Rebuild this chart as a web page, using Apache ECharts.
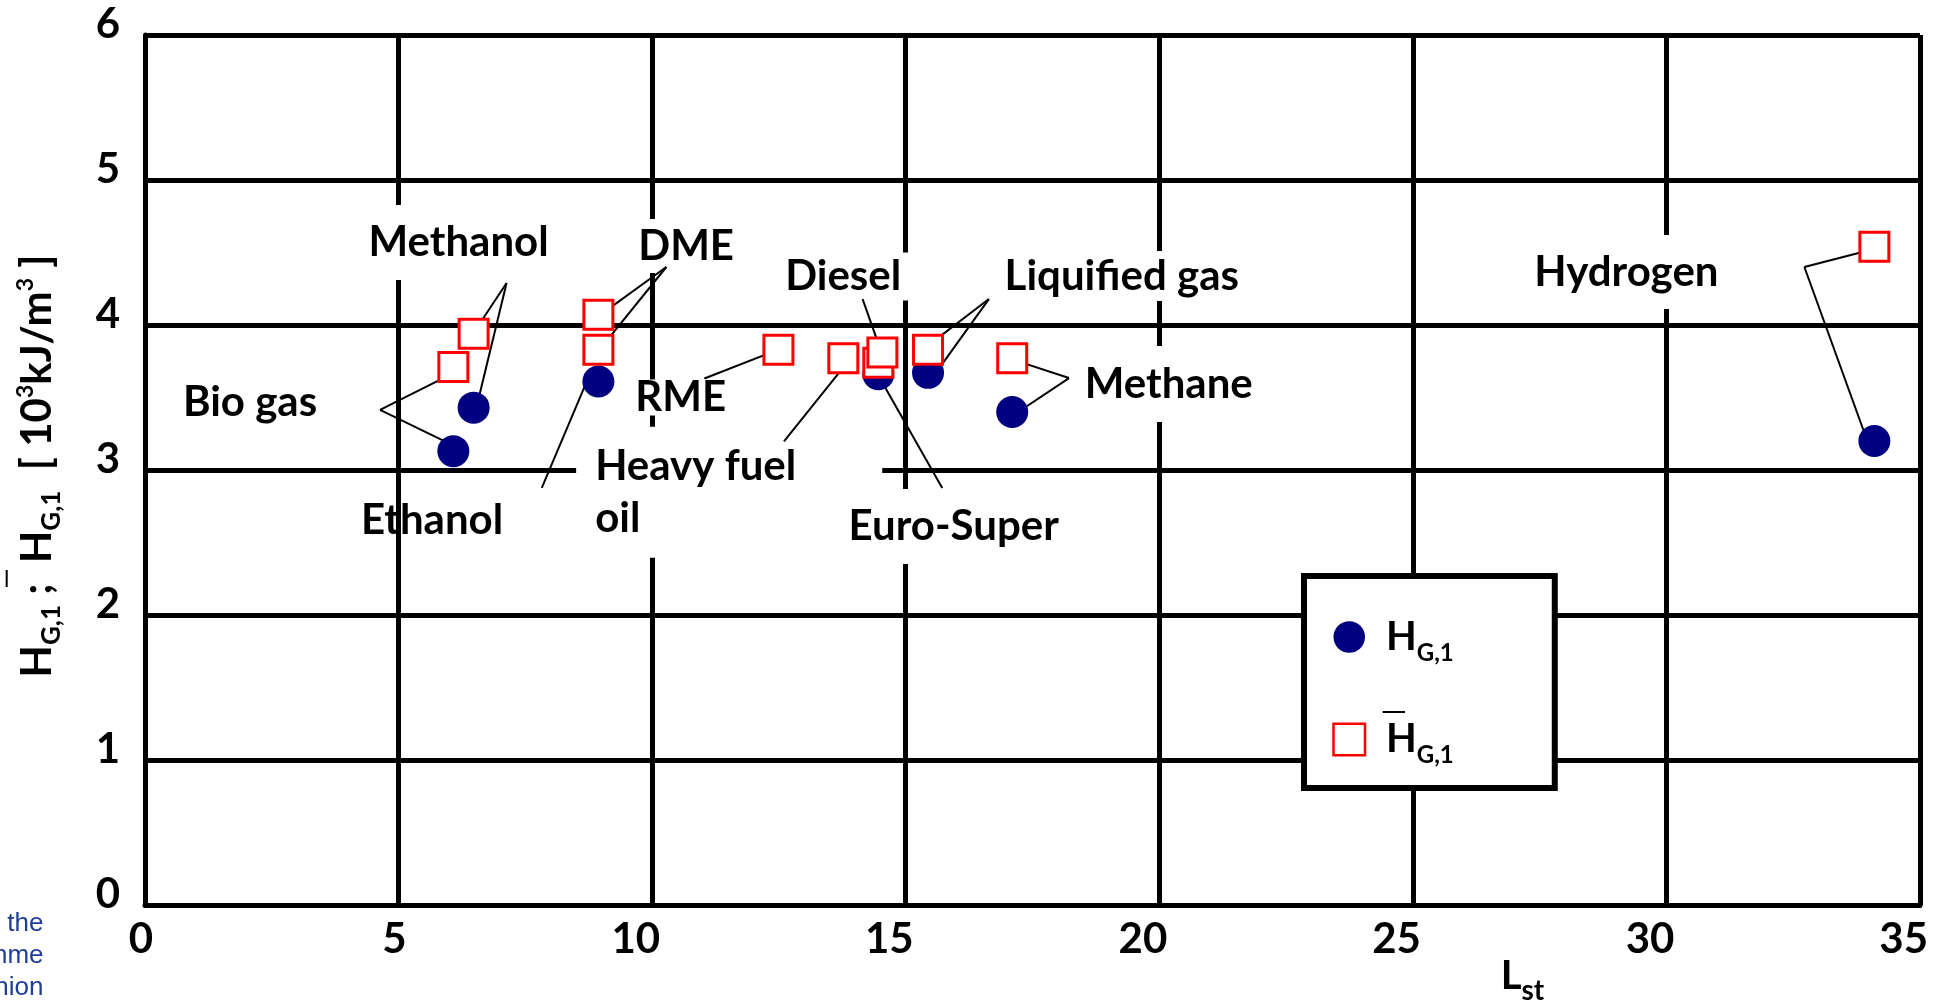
<!DOCTYPE html>
<html>
<head>
<meta charset="utf-8">
<script src="https://cdn.jsdelivr.net/npm/echarts@6/dist/echarts.min.js"></script>
<style>
  html, body { margin: 0; padding: 0; background: #fff; }
  #chart { width: 1952px; height: 1003px; }
</style>
</head>
<body>
<div id="chart"></div>
<script>
// Fuels and their stoichiometric air requirement L_st
const fuels = ['Bio gas', 'Methanol', 'DME', 'Ethanol', 'RME', 'Heavy fuel oil',
               'Euro-Super', 'Diesel', 'Liquified gas', 'Methane', 'Hydrogen'];
const lst   = [6.08, 6.48, 8.94, 8.94, 12.49, 13.77, 14.46, 14.54, 15.44, 17.10, 34.10];
// mixture heating value (open squares), 10^3 kJ/m^3
const hMix  = [3.71, 3.94, 4.07, 3.83, 3.83, 3.77, 3.74, 3.81, 3.83, 3.77, 4.54];
// H_G,1 (filled circles), 10^3 kJ/m^3; null = not plotted
const hG1   = [3.13, 3.43, null, 3.61, null, null, 3.66, null, 3.67, 3.40, 3.20];

const xMin = 0, xMax = 35, xStep = 5;
const yMin = 0, yMax = 6, yStep = 1;

const FONT = 'Lato';
const LABEL_SIZE = 42;

// Callout layout: text anchor and leader start in axis units,
// leader targets refer to a fuel's marker (sq / ci) with a small pixel nudge.
const callouts = [
  { text: 'Methanol', at: [6.183, 4.566], pad: [18, 10, 17, 10], from: [7.13, 4.29],
    to: [['sq', 1, 2, -4], ['ci', 1, 2, 3]] },
  { text: 'Bio gas', at: [2.071, 3.469], pad: [8, 8, 8, 8], from: [4.635, 3.414],
    to: [['sq', 0, -12, 12], ['ci', 0, -9, -10]] },
  { text: 'DME', at: [10.67, 4.552], pad: [6, 8, 8, 8], from: [10.28, 4.40],
    to: [['sq', 2, 4, -1.5], ['sq', 3, 4, -3.5]] },
  { text: 'Ethanol', at: [5.661, 2.655], bg: false, from: [7.824, 2.876],
    to: [['ci', 3, -10, -4]] },
  { text: 'RME', at: [10.562, 3.50], pad: [0, 4, 0, 4], lh: 36, from: [11.03, 3.631],
    to: [['sq', 4, 5, -2]] },
  { text: 'Heavy fuel\noil', at: [8.876, 2.853], align: 'left', lh: 52.5, pad: [12, 86, 14, 19],
    from: [12.60, 3.197], to: [['sq', 5, 4, 4]] },
  { text: 'Diesel', at: [13.767, 4.362], pad: [0, 14, 8, 10], from: [14.15, 4.179],
    to: [['sq', 7, -3, -6]] },
  { text: 'Euro-Super', at: [15.947, 2.614], pad: [17, 10, 18, 10], from: [15.72, 2.876],
    to: [['ci', 6, 1, 3]] },
  { text: 'Liquified gas', at: [19.26, 4.324], pad: [7, 8, 3, 8], from: [16.64, 4.179],
    to: [['sq', 8, -2, -2.5], ['ci', 8, 15, -10]] },
  { text: 'Methane', at: [20.187, 3.593], pad: [18, 10, 18, 10], from: [18.22, 3.634],
    to: [['sq', 9, 9, 4], ['ci', 9, 9, -2]] },
  { text: 'Hydrogen', at: [29.211, 4.372], pad: [16, 10, 18, 10], from: [32.72, 4.40],
    to: [['sq', 10, -7, 4], ['ci', 10, -7, 0]] }
];

const circleData = [];
const squareData = [];
fuels.forEach((f, i) => {
  if (hG1[i] != null) circleData.push({ name: f, value: [lst[i], hG1[i]] });
  squareData.push({ name: f, value: [lst[i], hMix[i]] });
});

const boldText = (size) => ({ fontSize: size, fontWeight: 'bold', fontFamily: FONT, color: '#000' });

const chart = echarts.init(document.getElementById('chart'), null, { renderer: 'canvas' });

const option = {
  animation: false,
  backgroundColor: '#fff',
  grid: { left: 145, right: 32, top: 35, bottom: 98 },
  xAxis: {
    type: 'value', min: xMin, max: xMax, interval: xStep,
    axisLine: { show: true, onZero: false, lineStyle: { color: '#000', width: 5 } },
    axisTick: { show: false },
    splitLine: { show: true, lineStyle: { color: '#000', width: 5 } },
    axisLabel: {
      margin: 13, align: 'left',
      formatter: (v) => '{t|' + v + '}',
      rich: { t: Object.assign(boldText(42), { width: 8, align: 'right', lineHeight: 42 }) }
    }
  },
  yAxis: {
    type: 'value', min: yMin, max: yMax, interval: yStep,
    axisLine: { show: true, onZero: false, lineStyle: { color: '#000', width: 5 } },
    axisTick: { show: false },
    splitLine: { show: true, lineStyle: { color: '#000', width: 5 } },
    axisLabel: Object.assign(boldText(42), { margin: 25, verticalAlign: 'bottom', lineHeight: 22 }),
    name: '{b|H}{s|G,1}{b| ;  H}{s|G,1}{b|  [ 10}{p|3}{b|kJ/m}{p|3}{b| ]}',
    nameLocation: 'middle', nameRotate: 90, nameGap: 80,
    nameTextStyle: {
      padding: [0, 0, 0, 8],
      rich: {
        b: Object.assign(boldText(42), { lineHeight: 56 }),
        s: Object.assign(boldText(26), { verticalAlign: 'bottom' }),
        p: Object.assign(boldText(23), { verticalAlign: 'top', padding: [5, 0, 0, 0] })
      }
    }
  },
  legend: {
    orient: 'vertical', left: 1304, top: 576,
    padding: [41, 101, 20.5, 28.25],
    itemGap: 54.5, itemWidth: 31.5, itemHeight: 31.5,
    borderColor: '#000', borderWidth: 6, backgroundColor: '#fff',
    selectedMode: false,
    data: [
      { name: 'HG1', icon: 'circle', itemStyle: { color: '#000080', borderWidth: 0 } },
      { name: 'HG1mix', icon: 'rect', itemStyle: { color: '#fff', borderColor: '#ff0000', borderWidth: 2.5 } }
    ],
    formatter: () => '{b|H}{s|G,1}',
    textStyle: {
      rich: {
        b: Object.assign(boldText(40), { lineHeight: 56, padding: [0, 0, 0, 16] }),
        s: Object.assign(boldText(24), { verticalAlign: 'bottom' })
      }
    }
  },
  graphic: [
    // bar over the mixture heating value symbol
    { type: 'line', z: 100, shape: { x1: 6.7, y1: 570, x2: 6.7, y2: 587 },
      style: { stroke: '#000', lineWidth: 2 } },
    { type: 'line', z: 100, shape: { x1: 1382.6, y1: 712, x2: 1405, y2: 712 },
      style: { stroke: '#000', lineWidth: 2 } },
    // x axis title
    { type: 'text', z: 100, x: 1500.7, y: 947,
      style: {
        text: '{L|L}{s|st}', align: 'left', verticalAlign: 'top', fill: '#000',
        rich: {
          L: { fontSize: 40, fontWeight: 'bold', fontFamily: FONT, lineHeight: 58 },
          s: { fontSize: 28, fontWeight: 'bold', fontFamily: FONT, verticalAlign: 'bottom' }
        }
      } },
    // footer fragment at the lower left edge
    { type: 'text', z: 100, x: 43.5, y: 908,
      style: {
        text: 'the\nnme\nnion', align: 'right', verticalAlign: 'top', lineHeight: 32,
        fontSize: 26, fontFamily: 'Liberation Sans', fill: '#1f3f95'
      } }
  ],
  series: [
    {
      // callout texts on white boxes
      type: 'custom', name: 'callouts', silent: true,
      data: callouts.map((c) => c.at),
      encode: { x: 0, y: 1 },
      renderItem: (params, api) => {
        const c = callouts[params.dataIndex];
        const p = api.coord(c.at);
        const pad = c.pad || [0, 0, 0, 0];
        const align = c.align || 'center';
        let x = p[0];
        const y = p[1] + (pad[2] - pad[0]) / 2;
        if (align === 'center') x += (pad[1] - pad[3]) / 2;
        else if (align === 'left') x -= pad[3];
        return {
          type: 'text',
          style: {
            x: x, y: y, text: c.text,
            fontSize: LABEL_SIZE, fontWeight: 'bold', fontFamily: FONT, fill: '#000',
            align: align, verticalAlign: 'middle', lineHeight: c.lh || 40,
            backgroundColor: c.bg === false ? 'transparent' : '#fff',
            padding: pad
          }
        };
      }
    },
    {
      type: 'scatter', name: 'HG1', data: circleData,
      symbol: 'circle', symbolSize: 32,
      itemStyle: { color: '#000080', opacity: 1 },
      emphasis: { disabled: true }
    },
    {
      type: 'scatter', name: 'HG1mix', data: squareData,
      symbol: 'rect', symbolSize: 29,
      itemStyle: { color: '#fff', borderColor: '#ff0000', borderWidth: 3, opacity: 1 },
      emphasis: { disabled: true }
    },
    {
      // leader lines from callouts to markers
      type: 'custom', name: 'leaders', silent: true,
      data: callouts.map((c) => c.from),
      encode: { x: 0, y: 1 },
      renderItem: (params, api) => {
        const c = callouts[params.dataIndex];
        const s = api.coord(c.from);
        const children = c.to.map((t) => {
          const i = t[1];
          const v = t[0] === 'sq' ? [lst[i], hMix[i]] : [lst[i], hG1[i]];
          const e = api.coord(v);
          return {
            type: 'line',
            shape: { x1: s[0], y1: s[1], x2: e[0] + t[2], y2: e[1] + t[3] },
            style: { stroke: '#000', lineWidth: 2 }
          };
        });
        return { type: 'group', children: children };
      }
    }
  ]
};

chart.setOption(option);
</script>
</body>
</html>
